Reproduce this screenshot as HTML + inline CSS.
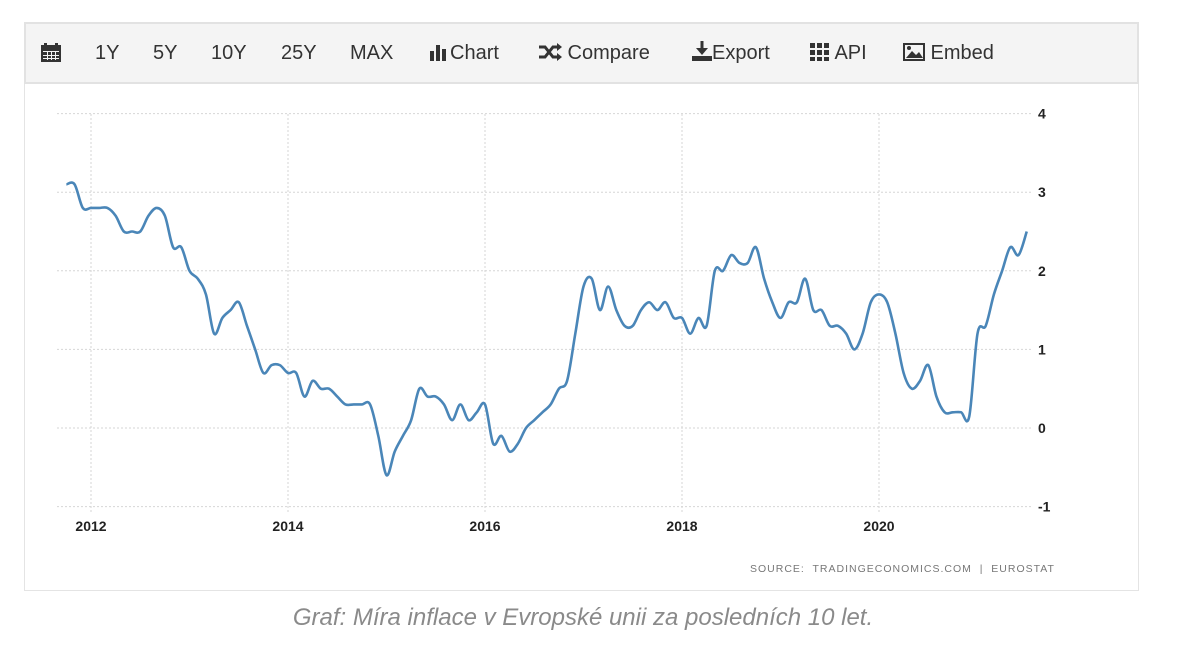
<!DOCTYPE html>
<html><head><meta charset="utf-8"><style>
body{margin:0;width:1180px;height:651px;background:#fff;font-family:"Liberation Sans",sans-serif;overflow:hidden;position:relative}
#panel{position:absolute;left:24px;top:22px;width:1115px;height:569px;border:1px solid #e4e4e4;box-sizing:border-box}
#toolbar{position:absolute;left:24px;top:22px;width:1115px;height:62px;background:#f4f4f4;border:2px solid #e2e2e2;box-sizing:border-box}
.tb{position:absolute;top:41px;font-size:20px;color:#333;line-height:24px}
#caption{position:absolute;left:0;width:1166px;top:604px;text-align:center;font-style:italic;font-size:24px;color:#8a8a8a}
</style></head><body>
<div id="panel"></div>
<div id="toolbar"></div>
<svg class="tb" style="left:41px;top:43px" width="20" height="19"><rect x="0" y="2" width="20" height="17" fill="#333"/><rect x="3" y="0" width="3" height="4" fill="#333"/><rect x="14" y="0" width="3" height="4" fill="#333"/><g fill="#f4f4f4"><rect x="2" y="8" width="16" height="1"/><rect x="2" y="12" width="16" height="1"/><rect x="2" y="15" width="16" height="1"/><rect x="6" y="8" width="1" height="9"/><rect x="10" y="8" width="1" height="9"/><rect x="14" y="8" width="1" height="9"/></g></svg>
<div class="tb" style="left:95px">1Y</div>
<div class="tb" style="left:153px">5Y</div>
<div class="tb" style="left:211px">10Y</div>
<div class="tb" style="left:281px">25Y</div>
<div class="tb" style="left:350px">MAX</div>
<div class="tb" style="left:430px"><svg width="20" height="18" style="vertical-align:-2px"><rect x="0" y="8" width="4" height="10" fill="#333"/><rect x="6" y="2" width="4" height="16" fill="#333"/><rect x="12" y="6" width="4" height="12" fill="#333"/></svg>Chart</div>
<div class="tb" style="left:538px"><svg width="24" height="18" style="vertical-align:-2px"><path d="M1 4h6l8 10h5M1 14h6l8-10h5" stroke="#333" stroke-width="3" fill="none"/><path d="M19 0l5 4-5 4zM19 10l5 4-5 4z" fill="#333"/></svg> Compare</div>
<div class="tb" style="left:692px"><svg width="20" height="20" style="vertical-align:-2px"><path d="M10 0v11" stroke="#333" stroke-width="3"/><path d="M4 7l6 7 6-7z" fill="#333"/><rect x="0" y="15" width="20" height="5" fill="#333"/></svg>Export</div>
<div class="tb" style="left:810px"><svg width="20" height="18" style="vertical-align:-2px"><g fill="#333"><rect x="0" y="0" width="5" height="5"/><rect x="7" y="0" width="5" height="5"/><rect x="14" y="0" width="5" height="5"/><rect x="0" y="7" width="5" height="5"/><rect x="7" y="7" width="5" height="5"/><rect x="14" y="7" width="5" height="5"/><rect x="0" y="14" width="5" height="4"/><rect x="7" y="14" width="5" height="4"/><rect x="14" y="14" width="5" height="4"/></g></svg> API</div>
<div class="tb" style="left:903px"><svg width="22" height="18" style="vertical-align:-2px"><rect x="0" y="0" width="22" height="18" fill="#333"/><rect x="2" y="2" width="18" height="14" fill="#f4f4f4"/><path d="M3 15l6-7 4 4 3-3 4 6z" fill="#333"/><circle cx="6" cy="5" r="2" fill="#333"/></svg> Embed</div>

<svg id="chart" width="1180" height="651" style="position:absolute;left:0;top:0"></svg>
<div style="position:absolute;left:750px;top:563px;font-size:10.5px;color:#777;letter-spacing:1px">SOURCE:&nbsp; TRADINGECONOMICS.COM &nbsp;|&nbsp; EUROSTAT</div>
<div id="caption">Graf: Míra inflace v Evropské unii za posledních 10 let.</div>
<script>
const startYear=2011, startMonth=9; // Oct 2011 (0-based month)
const values=[3.1,3.1,2.8,
2.8,2.8,2.8,2.7,2.5,2.5,2.5,2.7,2.8,2.7,2.3,2.3,
2.0,1.9,1.7,1.2,1.4,1.5,1.6,1.3,1.0,0.7,0.8,0.8,
0.7,0.7,0.4,0.6,0.5,0.5,0.4,0.3,0.3,0.3,0.3,-0.1,
-0.6,-0.3,-0.1,0.1,0.5,0.4,0.4,0.3,0.1,0.3,0.1,0.2,
0.3,-0.2,-0.1,-0.3,-0.2,0.0,0.1,0.2,0.3,0.5,0.6,1.2,
1.8,1.9,1.5,1.8,1.5,1.3,1.3,1.5,1.6,1.5,1.6,1.4,
1.4,1.2,1.4,1.3,2.0,2.0,2.2,2.1,2.1,2.3,1.9,1.6,
1.4,1.6,1.6,1.9,1.5,1.5,1.3,1.3,1.2,1.0,1.2,1.6,
1.7,1.6,1.2,0.7,0.5,0.6,0.8,0.4,0.2,0.2,0.2,0.15,
1.2,1.3,1.7,2.0,2.3,2.2,2.5];
const yTicks=[4,3,2,1,0,-1];
const xTicks=[2012,2014,2016,2018,2020];
const svg=document.getElementById('chart');const NS='http://www.w3.org/2000/svg';
const X=t=>91+(t-2012)*98.5;
const Y=v=>428-v*78.6;
function mk(tag,at){const e=document.createElementNS(NS,tag);for(const k in at)e.setAttribute(k,at[k]);svg.appendChild(e);return e;}
yTicks.forEach(v=>{
 const l=mk('line',{x1:57,x2:1033,y1:Y(v),y2:Y(v),stroke:'#d6d6d6','stroke-dasharray':'2,2'});
 
 
 const t=mk('text',{x:1038,y:Y(v)+5,'font-size':14,'font-weight':'bold',fill:'#222','font-family':'Liberation Sans,sans-serif'});
 t.textContent=v;
 
 
});
xTicks.forEach(yr=>{
 const l=mk('line',{x1:X(yr),x2:X(yr),y1:114,y2:512,stroke:'#d6d6d6','stroke-dasharray':'2,2'});
 
 
 const t=mk('text',{x:X(yr),y:531,'font-size':14,'font-weight':'bold',fill:'#222','text-anchor':'middle','font-family':'Liberation Sans,sans-serif'});
 t.textContent=yr;
 
 
});
const pts=values.map((v,i)=>[X(startYear+(startMonth+i)/12),Y(v)]);
let d='M'+pts[0][0]+','+pts[0][1];
for(let i=0;i<pts.length-1;i++){
 const p0=pts[Math.max(0,i-1)],p1=pts[i],p2=pts[i+1],p3=pts[Math.min(pts.length-1,i+2)];
 const c1=[p1[0]+(p2[0]-p0[0])/6,p1[1]+(p2[1]-p0[1])/6],c2=[p2[0]-(p3[0]-p1[0])/6,p2[1]-(p3[1]-p1[1])/6];
 d+=`C${c1[0]},${c1[1]} ${c2[0]},${c2[1]} ${p2[0]},${p2[1]}`;
}
const line=mk('path',{d:d,fill:'none',stroke:'#4a86b8','stroke-width':2.6,'stroke-linejoin':'round'});


</script>
</body></html>
